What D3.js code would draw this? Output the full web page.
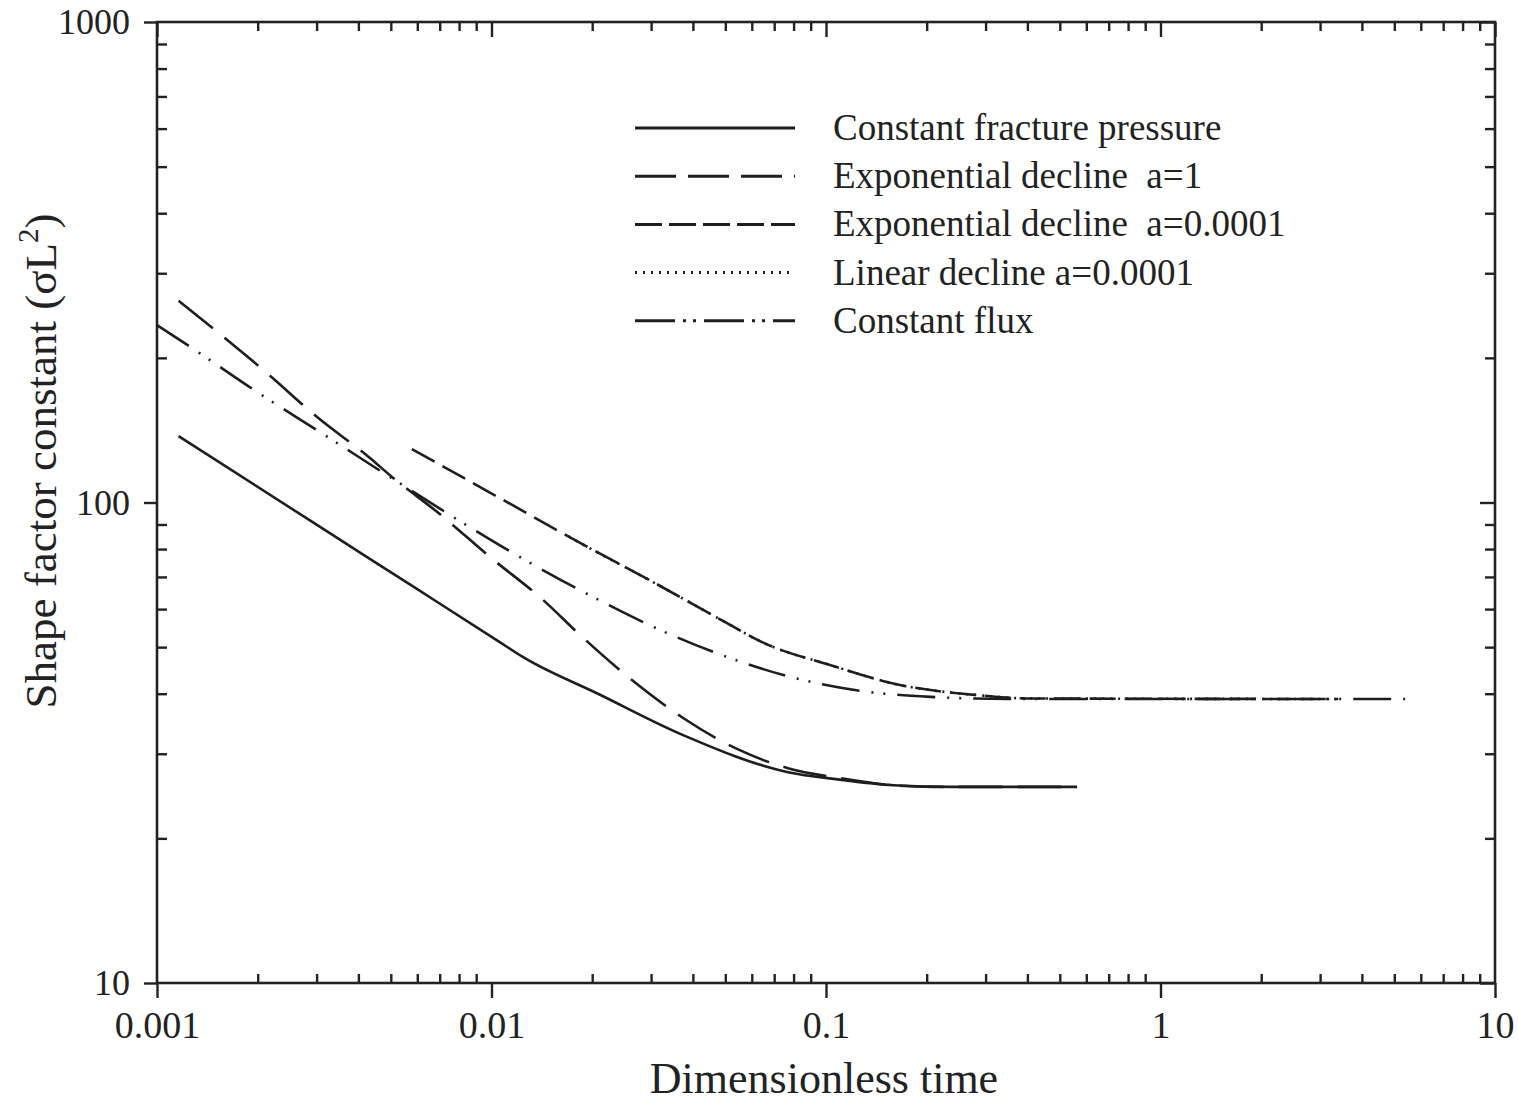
<!DOCTYPE html>
<html>
<head>
<meta charset="utf-8">
<script src="https://cdn.jsdelivr.net/npm/d3@7"></script>
<style>
  html, body { margin: 0; padding: 0; background: #fff; }
  svg { display: block; }
  text { font-family: "Liberation Serif", "Times New Roman", serif; fill: #222; }
</style>
</head>
<body>
<svg id="chart" width="1518" height="1105"></svg>
<script>
// ---- data: dimensionless time vs shape factor constant (sigma L^2) ----
const tFracture = [0.00116, 0.003, 0.006, 0.0105, 0.0124, 0.0211, 0.0374, 0.0764, 0.110, 0.159, 0.2365, 0.563];
const sFracture = [137.5, 89.9, 66.0, 51.4, 47.7, 39.8, 32.8, 27.5, 26.5, 25.8, 25.6, 25.6];

const tExpA1 = [0.00116, 0.00213, 0.00301, 0.00433, 0.00497, 0.00702, 0.0099, 0.01426, 0.0184, 0.0263, 0.0374, 0.0542, 0.077, 0.110, 0.159, 0.209, 0.563];
const sExpA1 = [263, 186, 150.6, 123.8, 114, 94.5, 77.0, 62.7, 53.0, 42.7, 35.6, 30.7, 28.0, 26.7, 25.8, 25.6, 25.6];

const tExpSmall = [0.00578, 0.01113, 0.0184, 0.0304, 0.0506, 0.0644, 0.1028, 0.1664, 0.23, 0.283, 0.4, 3.4];
const sExpSmall = [129.2, 100.2, 82.4, 68.3, 56.1, 51.2, 45.9, 41.7, 40.3, 39.75, 39.1, 39.0];

const tLinear = [0.017, 0.0184, 0.0304, 0.0506, 0.0644, 0.1028, 0.1664, 0.23, 0.283, 0.4, 3.4];
const sLinear = [85.0, 82.4, 68.3, 56.1, 51.2, 45.9, 41.7, 40.3, 39.75, 39.1, 39.0];

const tFlux = [0.001, 0.001255, 0.001986, 0.00318, 0.00497, 0.00794, 0.0126, 0.0201, 0.0319, 0.0506, 0.0808, 0.128, 0.205, 0.35, 5.69];
const sFlux = [234, 211, 170, 138, 113, 92, 75.9, 63.6, 54.3, 47.7, 43.1, 40.5, 39.4, 39.0, 39.0];

const seriesNames = [
  "Constant fracture pressure",
  "Exponential decline  a=1",
  "Exponential decline  a=0.0001",
  "Linear decline a=0.0001",
  "Constant flux"
];

const xTickValues = [0.001, 0.01, 0.1, 1, 10];
const xTickLabels = ["0.001", "0.01", "0.1", "1", "10"];
const yTickValues = [10, 100, 1000];
const yTickLabels = ["10", "100", "1000"];

const xTitle = "Dimensionless time";
const yTitleMain = "Shape factor constant (\u03C3L";
const yTitleSup = "2";
const yTitleEnd = ")";

// ---- line styles, one per series ----
const plotDash = {
  "Constant fracture pressure": null,
  "Exponential decline  a=1": "44 15",
  "Exponential decline  a=0.0001": "26 9",
  "Linear decline a=0.0001": "2 6",
  "Constant flux": "38 12 2 10 2 12"
};
const legendDash = {
  "Constant fracture pressure": null,
  "Exponential decline  a=1": "41 12",
  "Exponential decline  a=0.0001": "27 7",
  "Linear decline a=0.0001": "2 6",
  "Constant flux": "40 8 3 7 3 8"
};

const seriesData = [
  [tFracture, sFracture],
  [tExpA1, sExpA1],
  [tExpSmall, sExpSmall],
  [tLinear, sLinear],
  [tFlux, sFlux]
].map(([t, s], i) => ({ name: seriesNames[i], points: t.map((v, j) => ({ t: v, s: s[j] })) }));

// ---- layout ----
const L = 157, R = 1495, T = 22, B = 983;
const ink = "#222";

const svg = d3.select("#chart");
const x = d3.scaleLog().domain([0.001, 10]).range([L, R]);
const y = d3.scaleLog().domain([10, 1000]).range([B, T]);

// minor tick positions at 2..9 within each decade
const xMinor = [];
for (let d = 0.001; d < 9; d *= 10) for (let k = 2; k <= 9; k++) xMinor.push(+(d * k).toPrecision(3));
const yMinor = [];
for (let d = 10; d < 900; d *= 10) for (let k = 2; k <= 9; k++) yMinor.push(d * k);

function styleAxis(g) {
  g.select(".domain").remove();
  g.selectAll(".tick line").attr("stroke", ink).attr("stroke-width", 2.4);
}

// bottom axis: majors outward with labels, minors inward
svg.append("g").attr("transform", `translate(0,${B})`)
  .call(d3.axisBottom(x).tickValues(xTickValues).tickSize(15).tickSizeOuter(0)
    .tickFormat((d, i) => xTickLabels[i]).tickPadding(13))
  .call(styleAxis)
  .call(g => g.selectAll(".tick text").attr("font-size", 38).attr("fill", ink)
    .attr("font-family", "'Liberation Serif', serif"));
svg.append("g").attr("transform", `translate(0,${B})`)
  .call(d3.axisBottom(x).tickValues(xMinor).tickSize(-9).tickSizeOuter(0).tickFormat(""))
  .call(styleAxis);

// top axis: all ticks inward
svg.append("g").attr("transform", `translate(0,${T})`)
  .call(d3.axisTop(x).tickValues(xMinor).tickSize(-9).tickSizeOuter(0).tickFormat(""))
  .call(styleAxis);
svg.append("g").attr("transform", `translate(0,${T})`)
  .call(d3.axisTop(x).tickValues(xTickValues).tickSize(-15).tickSizeOuter(0).tickFormat(""))
  .call(styleAxis);

// left axis: majors outward with labels, minors inward
svg.append("g").attr("transform", `translate(${L},0)`)
  .call(d3.axisLeft(y).tickValues(yTickValues).tickSize(13).tickSizeOuter(0)
    .tickFormat((d, i) => yTickLabels[i]).tickPadding(14))
  .call(styleAxis)
  .call(g => g.selectAll(".tick text").attr("font-size", 36).attr("fill", ink)
    .attr("font-family", "'Liberation Serif', serif"));
svg.append("g").attr("transform", `translate(${L},0)`)
  .call(d3.axisLeft(y).tickValues(yMinor).tickSize(-10).tickSizeOuter(0).tickFormat(""))
  .call(styleAxis);

// right axis: all ticks inward
svg.append("g").attr("transform", `translate(${R},0)`)
  .call(d3.axisRight(y).tickValues(yMinor).tickSize(-10).tickSizeOuter(0).tickFormat(""))
  .call(styleAxis);
svg.append("g").attr("transform", `translate(${R},0)`)
  .call(d3.axisRight(y).tickValues(yTickValues).tickSize(-15).tickSizeOuter(0).tickFormat(""))
  .call(styleAxis);

// frame
svg.append("rect").attr("x", L).attr("y", T).attr("width", R - L).attr("height", B - T)
  .attr("fill", "none").attr("stroke", ink).attr("stroke-width", 2.6);

// curves
const line = d3.line().x(d => x(d.t)).y(d => y(d.s)).curve(d3.curveMonotoneX);
svg.append("g").selectAll("path").data(seriesData).join("path")
  .attr("d", d => line(d.points))
  .attr("fill", "none")
  .attr("stroke", "#1e1e1e")
  .attr("stroke-width", 2.6)
  .attr("stroke-dasharray", d => plotDash[d.name]);

// legend
const legendX0 = 635, legendX1 = 795, legendTextX = 833;
const legendY0 = 128, legendStep = 48.2;
const legend = svg.append("g");
seriesNames.forEach((name, i) => {
  const yy = legendY0 + i * legendStep;
  legend.append("line").attr("x1", legendX0).attr("x2", legendX1).attr("y1", yy).attr("y2", yy)
    .attr("stroke", "#1e1e1e").attr("stroke-width", 3)
    .attr("stroke-dasharray", legendDash[name]);
  legend.append("text").attr("x", legendTextX).attr("y", yy + 12)
    .attr("font-size", 37).style("white-space", "pre").text(name);
});

// axis titles
svg.append("text").attr("x", (L + R) / 2 - 2).attr("y", 1093)
  .attr("text-anchor", "middle").attr("font-size", 44).text(xTitle);

const yt = svg.append("text").attr("transform", "translate(56,461) rotate(-90)")
  .attr("text-anchor", "middle").attr("font-size", 45);
yt.append("tspan").text(yTitleMain);
yt.append("tspan").attr("font-size", 29).attr("dy", -18).text(yTitleSup);
yt.append("tspan").attr("dy", 18).text(yTitleEnd);
</script>
</body>
</html>
